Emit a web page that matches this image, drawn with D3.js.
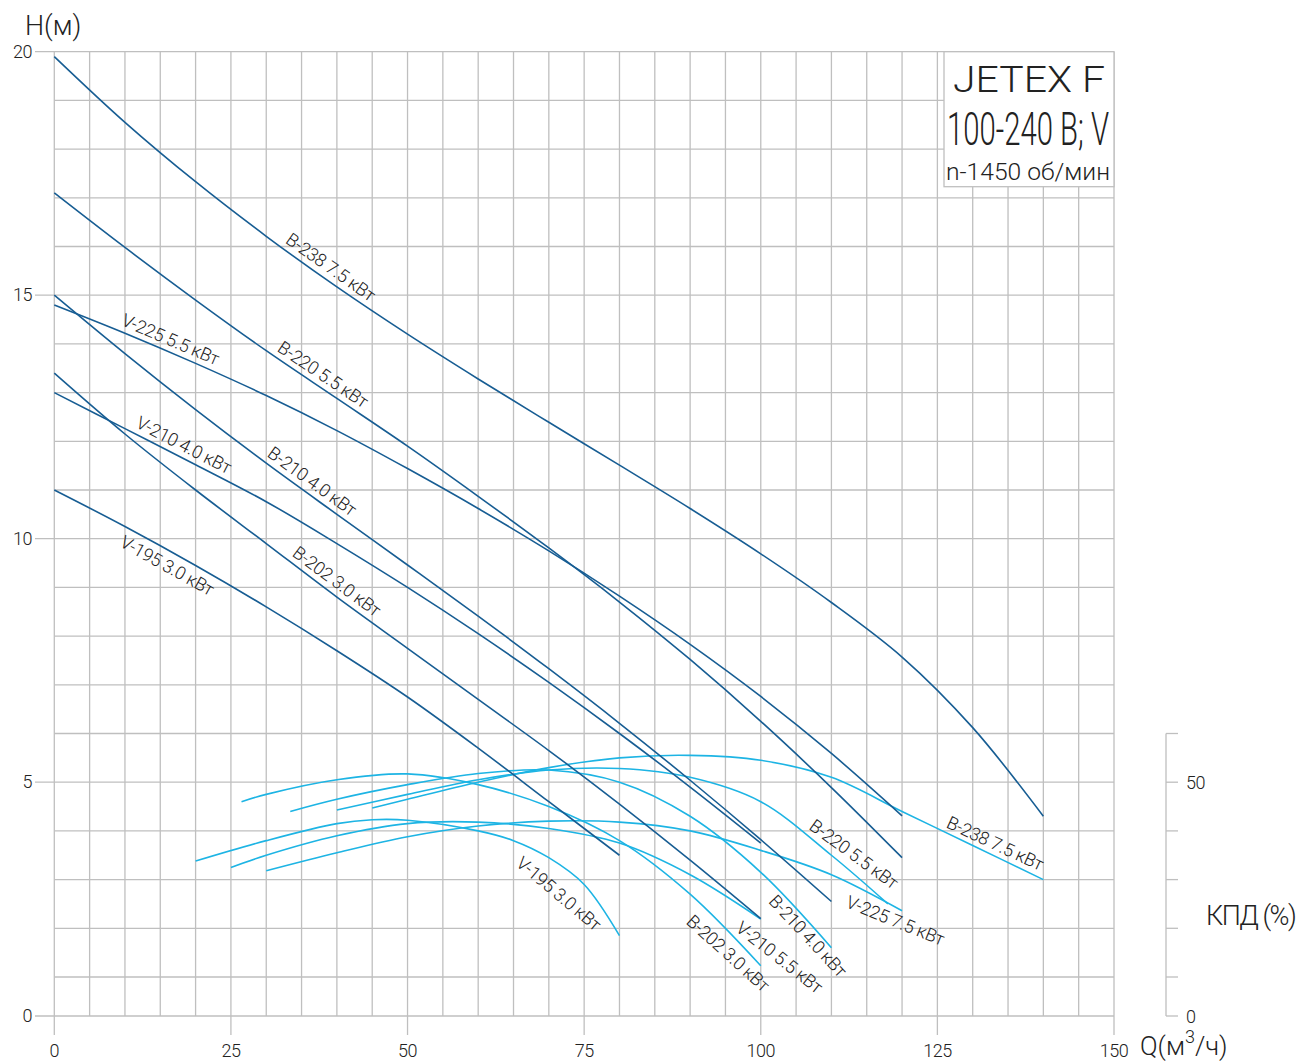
<!DOCTYPE html>
<html>
<head>
<meta charset="utf-8">
<script src="https://cdn.jsdelivr.net/npm/d3@7"></script>
<style>
  body { margin: 0; background: #fff; }
  text { font-family: Roboto, "Liberation Sans", sans-serif; font-weight: 300; fill: #222; }
</style>
</head>
<body>
<svg id="chart" width="1299" height="1064"></svg>
<script>
// ---- axis ticks ----
const qTicks = [0, 25, 50, 75, 100, 125, 150];
const hTicks = [0, 5, 10, 15, 20];
const kpdTicks = [0, 10, 20, 30, 40, 50, 60];
const kpdLabels = [0, 50];

// ---- head curves H(Q), Q step 10 m3/h starting at 0 ----
const headNames = ["B-238 7.5 кВт", "B-220 5.5 кВт", "V-225 5.5 кВт", "B-210 4.0 кВт", "V-210 4.0 кВт", "B-202 3.0 кВт", "V-195 3.0 кВт"];
const headB238 = [19.9, 18.55, 17.33, 16.21, 15.17, 14.2, 13.28, 12.39, 11.51, 10.62, 9.69, 8.69, 7.57, 6.12, 4.3];
const headB220 = [17.1, 15.98, 14.9, 13.86, 12.88, 11.9, 10.87, 9.81, 8.7, 7.52, 6.25, 4.89, 3.45];
const headV225 = [14.8, 14.22, 13.6, 12.94, 12.22, 11.44, 10.62, 9.75, 8.82, 7.83, 6.76, 5.59, 4.31];
const headB210 = [15.0, 13.8, 12.65, 11.55, 10.5, 9.46, 8.41, 7.33, 6.21, 5.04, 3.82, 2.55];
const headV210 = [13.0, 12.26, 11.52, 10.76, 9.9, 9.0, 8.05, 7.05, 6.0, 4.9, 3.75];
const headB202 = [13.4, 12.15, 11.0, 9.9, 8.8, 7.75, 6.7, 5.65, 4.55, 3.4, 2.2];
const headV195 = [11.0, 10.25, 9.45, 8.6, 7.7, 6.75, 5.7, 4.6, 3.5];
const headLabelQ = [32, 31, 9, 29.5, 11, 33, 10.5];
const headLabelSide = [1, 1, 1, 1, 1, 1, -1];

// ---- efficiency curves KPD(Q), % ----
const effNames = ["B-238 7.5 кВт", "B-220 5.5 кВт", "B-210 4.0 кВт", "V-195 3.0 кВт", "B-202 3.0 кВт", "V-210 5.5 кВт", "V-225 7.5 кВт"];
const effB238Q = [45, 50, 60, 70, 80, 90, 100, 110, 120, 130, 140];
const effB238 = [44.7, 46.5, 50, 53, 55, 55.5, 54.5, 51, 44, 37, 30];
const effB220Q = [40, 50, 60, 70, 80, 90, 100, 110, 118];
const effB220 = [44.3, 47.5, 50.5, 52.5, 52.8, 51, 46, 35, 25];
const effB210Q = [33.4, 40, 50, 60, 70, 80, 90, 100, 110];
const effB210 = [44, 46.5, 49.5, 51.8, 52.5, 50, 43, 31.5, 16];
const effV195Q = [20, 30, 40, 45, 50, 60, 65, 70, 75, 80];
const effV195 = [33.8, 38, 41.5, 42.3, 42.2, 40, 38, 34.5, 29, 18.5];
const effB202Q = [26.5, 30, 40, 50, 60, 70, 80, 90, 100];
const effB202 = [46, 47.5, 50.5, 51.7, 49.5, 45, 38, 27, 12.3];
const effV210Q = [25, 30, 40, 50, 60, 70, 80, 90, 100];
const effV210 = [32.5, 35, 39, 41.5, 41.8, 40.5, 37.5, 31, 21.9];
const effV225Q = [30, 40, 50, 60, 70, 80, 90, 100, 110, 120];
const effV225 = [31.8, 35.5, 38.8, 41, 42, 41.8, 40, 36, 31, 23.6];
// label anchors (start of baseline) in chart units, with text angle
const effLabelQ = [126.1, 106.7, 101.0, 65.2, 89.3, 96.3, 111.9];
const effLabelKpd = [40.8, 40.5, 25.4, 33.0, 21.1, 19.6, 24.4];
const effLabelAngle = [25, 36, 47, 40, 42, 38, 22];

// ---- build series tables ----
const headSeries = [headB238, headB220, headV225, headB210, headV210, headB202, headV195].map((vals, i) => ({
  name: headNames[i],
  pts: vals.map((h, j) => [j * 10, h]),
  labelQ: headLabelQ[i],
  side: headLabelSide[i]
}));
const effSeries = [[effB238Q, effB238], [effB220Q, effB220], [effB210Q, effB210], [effV195Q, effV195],
  [effB202Q, effB202], [effV210Q, effV210], [effV225Q, effV225]].map(([qs, vs], i) => ({
  name: effNames[i],
  pts: qs.map((q, j) => [q, vs[j]]),
  lq: effLabelQ[i], lk: effLabelKpd[i], la: effLabelAngle[i]
}));

// ---- layout ----
const svg = d3.select("#chart");
const GRID = "#bfbfbf";
const DARK = "#175d93";
const CYAN = "#1db4e4";
const LABEL_FS = 18;

const x = d3.scaleLinear().domain([0, 150]).range([54.3, 1114]);
// the bottom band of the grid is slightly narrower than the rest
const y = d3.scaleLinear().domain([0, 1, 20]).range([1016, 977, 51.7]);
const yK = d3.scaleLinear().domain([0, 10, 200]).range([1016, 977, 51.7]);

// grid
const gGrid = svg.append("g");
gGrid.selectAll("line.h").data(d3.range(0, 21)).join("line")
  .attr("x1", d => hTicks.includes(d) ? 35 : x(0)).attr("x2", x(150))
  .attr("y1", d => y(d)).attr("y2", d => y(d))
  .attr("stroke", GRID).attr("stroke-width", 1.3);
gGrid.selectAll("line.v").data(d3.range(0, 151, 5)).join("line")
  .attr("x1", d => x(d)).attr("x2", d => x(d))
  .attr("y1", y(20)).attr("y2", d => qTicks.includes(d) ? 1035 : y(0))
  .attr("stroke", GRID).attr("stroke-width", 1.3);

// left tick labels
svg.append("g").selectAll("text").data(hTicks).join("text")
  .attr("x", 32).attr("y", d => y(d) + 6)
  .attr("text-anchor", "end").attr("font-size", 18).attr("letter-spacing", -0.5)
  .text(d => d);
// bottom tick labels
svg.append("g").selectAll("text").data(qTicks).join("text")
  .attr("x", d => x(d)).attr("y", 1057)
  .attr("text-anchor", "middle").attr("font-size", 18).attr("letter-spacing", -0.5)
  .text(d => d);

// axis titles
svg.append("text").attr("x", 25).attr("y", 35).attr("font-size", 27).text("H(м)");
const qt = svg.append("text").attr("x", 1140).attr("y", 1055).attr("font-size", 26);
qt.append("tspan").text("Q(м");
qt.append("tspan").attr("font-size", 18).attr("dy", -12).text("3");
qt.append("tspan").attr("dy", 12).text("/ч)");
svg.append("text").attr("x", 1206).attr("y", 925).attr("font-size", 27).attr("letter-spacing", -1.5).text("КПД (%)");

// right KPD axis
const gK = svg.append("g");
gK.append("line").attr("x1", 1166).attr("x2", 1166).attr("y1", yK(60)).attr("y2", yK(0))
  .attr("stroke", GRID).attr("stroke-width", 1.3);
gK.selectAll("line.t").data(kpdTicks).join("line")
  .attr("x1", 1166).attr("x2", 1178).attr("y1", d => yK(d)).attr("y2", d => yK(d))
  .attr("stroke", GRID).attr("stroke-width", 1.3);
gK.selectAll("text").data(kpdLabels).join("text")
  .attr("x", 1186).attr("y", d => yK(d) + 7).attr("font-size", 18).attr("letter-spacing", -0.5)
  .text(d => d);

// curves
const line = d3.line().curve(d3.curveCatmullRom.alpha(0.5));
const gCurves = svg.append("g").attr("fill", "none").attr("stroke-width", 1.6);
gCurves.selectAll("path.eff").data(effSeries).join("path")
  .attr("stroke", CYAN)
  .attr("d", s => line(s.pts.map(([q, v]) => [x(q), yK(v)])));
const headPaths = gCurves.selectAll("path.head").data(headSeries).join("path")
  .attr("stroke", DARK)
  .attr("d", s => line(s.pts.map(([q, v]) => [x(q), y(v)])));

// head labels run along their curve: angle follows the chord under the text
headPaths.each(function (s) {
  const len = this.getTotalLength();
  const samples = d3.range(0, 801).map(i => this.getPointAtLength(len * i / 800));
  const at = px => samples[d3.minIndex(samples, p => Math.abs(p.x - px))];
  const p = at(x(s.labelQ));
  const q = at(x(s.labelQ) + 80);
  const ang = Math.atan2(q.y - p.y, q.x - p.x);
  const off = s.side > 0 ? 6 : LABEL_FS + 2;
  const dx = s.side > 0 ? Math.sin(ang) * off : -Math.sin(ang) * off;
  const dy = s.side > 0 ? -Math.cos(ang) * off : Math.cos(ang) * off;
  svg.append("text")
    .attr("transform", `translate(${p.x + dx},${p.y + dy}) rotate(${ang * 180 / Math.PI})`)
    .attr("font-size", LABEL_FS).attr("letter-spacing", -0.3)
    .text(s.name);
});

// efficiency labels
svg.append("g").selectAll("text").data(effSeries).join("text")
  .attr("transform", s => `translate(${x(s.lq)},${yK(s.lk)}) rotate(${s.la})`)
  .attr("font-size", LABEL_FS).attr("letter-spacing", -0.3)
  .text(s => s.name);

// title box
const box = svg.append("g");
box.append("rect").attr("x", 944).attr("y", y(20)).attr("width", 1114 - 944).attr("height", 135)
  .attr("fill", "#fff").attr("stroke", GRID).attr("stroke-width", 1.3);
box.append("text").attr("x", 1029).attr("y", 92).attr("text-anchor", "middle")
  .attr("font-size", 36).attr("textLength", 152).attr("lengthAdjust", "spacingAndGlyphs").text("JETEX F");
box.append("text").attr("x", 1028).attr("y", 145).attr("text-anchor", "middle")
  .attr("font-size", 46).attr("textLength", 162).attr("lengthAdjust", "spacingAndGlyphs").text("100-240 B; V");
box.append("text").attr("x", 1028).attr("y", 180).attr("text-anchor", "middle")
  .attr("font-size", 24).attr("textLength", 164).attr("lengthAdjust", "spacingAndGlyphs").text("n-1450 об/мин");
</script>
</body>
</html>
